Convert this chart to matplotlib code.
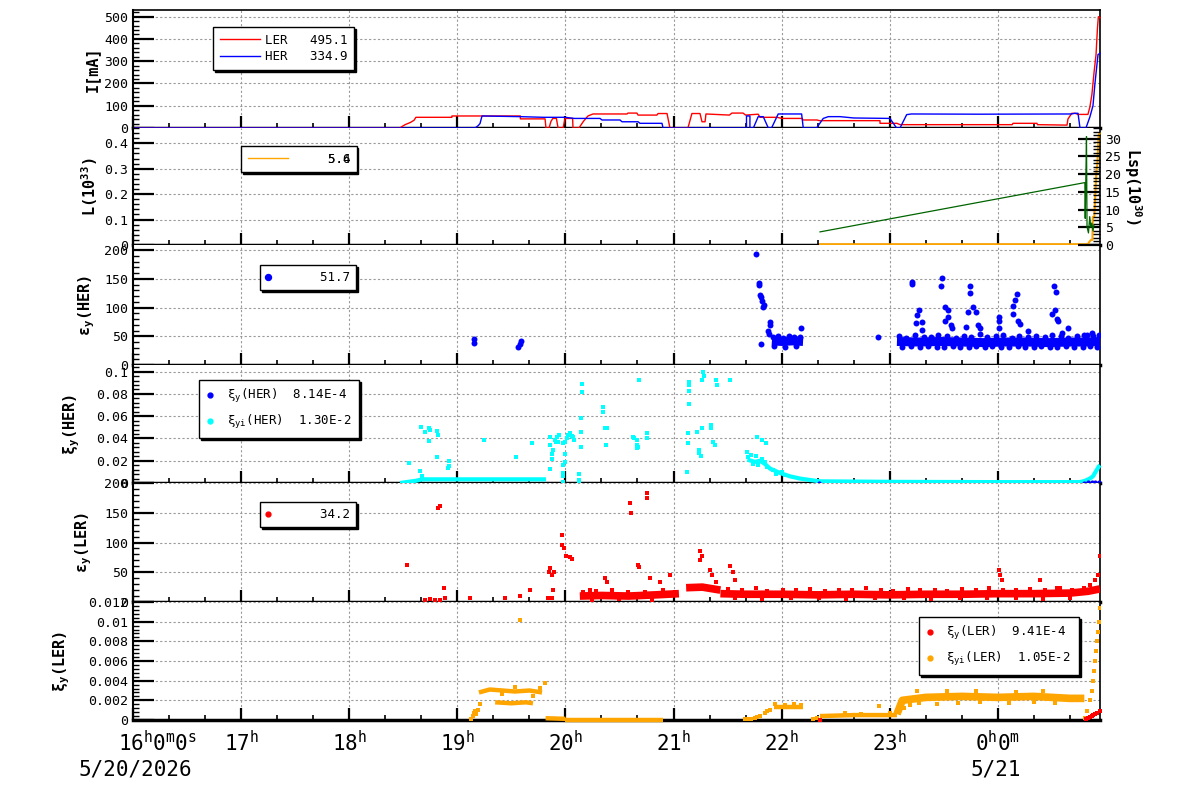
import numpy as np
import matplotlib.pyplot as plt
import matplotlib.transforms as mtransforms
from matplotlib.ticker import MultipleLocator
from matplotlib.lines import Line2D

plt.rcParams['font.family'] = 'DejaVu Sans Mono'
plt.rcParams['mathtext.default'] = 'regular'

#%% Data (time in minutes after 16:00 on 5/20/2026)
T_END = 536.7
hour_ticks = [0, 60, 120, 180, 240, 300, 360, 420, 480]
hour_labels = [r'$16^{h}0^{m}0^{s}$', r'$17^{h}$', r'$18^{h}$', r'$19^{h}$', r'$20^{h}$',
               r'$21^{h}$', r'$22^{h}$', r'$23^{h}$', r'$0^{h}0^{m}$']

# beam currents [mA]
ler_current = [(0, 0), (148, 0), (151, 15), (154, 25), (156, 35), (157, 48), (177, 48), (177, 54),
               (215, 54), (215, 41), (228.7, 41), (229.2, 0), (230.9, 0), (232, 30), (233, 43), (235, 43),
               (235.9, 0), (238.7, 0), (239.8, 43), (244, 43), (244.2, 0), (247.5, 0), (250, 30), (252.5, 54),
               (255.3, 63), (274.2, 63), (274.7, 67), (279.7, 67), (280.3, 58), (290.8, 58), (291.4, 65),
               (296.4, 65), (298, 0), (308, 0), (310.2, 65), (314.7, 65), (315.8, 28), (317.5, 28), (318, 63),
               (331, 58), (332.4, 67), (338.6, 67), (340, 58), (347, 62), (348, 48), (357.4, 48), (360.2, 43),
               (371.3, 43), (371.9, 36), (379.6, 36), (381, 33), (414.6, 33), (414.6, 21), (424, 21),
               (425.7, 15), (488, 15), (488.4, 21), (501.7, 21), (502, 15), (518.4, 13), (518.9, 40),
               (521, 66), (522.8, 66), (524.5, 61), (530, 61), (531.1, 95), (532.2, 150), (533.4, 250),
               (534.5, 330), (535.3, 450), (535.8, 500), (536.7, 495)]
her_current = [(0, 0), (189.8, 0), (191.5, 10), (192.6, 20), (193.7, 54), (214.8, 51), (228, 48), (240, 48),
               (245, 43), (259.2, 43), (260.3, 36), (270.3, 36), (271.4, 28), (280.3, 28), (281.4, 21),
               (293.6, 21), (294.2, 0), (340.5, 0), (340.5, 54), (342.4, 54), (342.4, 0), (344.3, 0),
               (347, 51), (349.8, 51), (352.6, 0), (354.4, 0), (358.1, 63), (371.1, 63), (372, 0),
               (379.4, 0), (383.1, 43), (385.9, 51), (392.4, 51), (400, 45), (420.1, 43), (423.8, 0),
               (425.7, 0), (429.4, 60), (432, 63), (470, 62), (521, 63), (522.8, 66), (524.5, 66),
               (525.6, 0), (528.9, 0), (531.1, 50), (532.8, 100), (533.9, 200), (535.6, 330), (536.7, 335)]

# luminosity [1e33] and specific luminosity [1e30]
lum = [(381.3, 0.003), (530, 0.003), (530.5, 0.01), (531.7, 0.02), (532.5, 0.02), (532.7, 0.11),
       (533.5, 0.11), (534.3, 0.23), (534.7, 0.29), (535.3, 0.32), (535.9, 0.43), (536.6, 0.44)]
lsp = [(381.3, 3.7), (528.3, 17.6), (528.5, 7.5), (528.9, 21), (529.2, 30.6), (529.5, 5.1), (530.3, 3.4),
       (531, 8), (531.6, 5), (532.2, 6.2), (532.8, 4), (533.3, 5.5)]

# vertical emittance HER
eyh_pts = [(189.3, 45), (189.3, 38), (213.7, 32), (214.8, 36), (215.3, 41), (413.5, 49),
           (345.8, 193), (347.4, 143), (347.4, 139), (348, 122), (348.5, 118), (349.1, 112), (349.7, 101),
           (350.2, 104), (353.5, 75), (353.5, 70), (353, 54), (348.5, 36), (352.4, 60), (370.7, 64),
           (432.3, 145), (432.3, 141), (436.2, 96), (435, 87), (437.9, 75), (434.6, 73), (437.9, 61),
           (449, 151), (448.4, 137), (450.7, 101), (452.3, 95), (452.3, 83), (450.7, 76), (454, 70),
           (454.6, 65), (464.5, 137), (464.5, 125), (466.2, 101), (463.4, 93), (467.9, 92), (469, 70),
           (470, 65), (462.3, 67), (480.6, 83), (480.6, 76), (480.6, 65), (490.6, 124), (489.5, 113),
           (488.4, 103), (488.4, 89), (491.2, 76), (492.3, 72), (496.7, 59), (511.2, 137), (512.3, 127),
           (511.7, 96), (510, 89), (512.8, 80), (513.4, 77), (518.9, 64), (515.6, 55), (532.2, 56),
           (529.5, 52),
           (355, 48), (358, 50), (361, 47), (364, 51), (367, 49), (370, 48), (356, 33), (362, 32), (368, 33),
           (425, 50), (429, 47), (434, 52), (439, 49), (443, 48), (447, 53), (452, 50), (457, 47), (461, 51),
           (465, 49), (470, 54), (474, 48), (479, 50), (483, 52), (488, 47), (492, 51), (497, 49), (501, 50),
           (506, 48), (510, 52), (515, 50), (519, 47), (524, 51), (528, 53), (533, 50), (536, 52),
           (427, 32), (432, 33), (437, 31), (441, 33), (446, 32), (450, 31), (455, 33), (459, 32), (464, 31),
           (468, 33), (473, 32), (477, 33), (482, 31), (486, 32), (491, 33), (495, 31), (500, 32), (504, 33),
           (509, 31), (513, 32), (518, 33), (522, 31), (527, 32), (531, 33), (535, 32)]
eyh_band1 = [(354.6, 42), (360, 41), (366, 42), (371.9, 41)]
eyh_band2 = [(424, 41), (436, 40), (448, 41), (460, 40), (472, 39), (484, 40), (496, 40), (508, 39),
             (520, 40), (530, 40), (536.7, 41)]

# beam-beam parameters HER
xiyi_her_pts = [(153.2, 0.0177), (159.3, 0.0105), (160.4, 0.006), (159.8, 0.050), (162.1, 0.0456),
                (164.3, 0.049), (164.3, 0.0375), (164.8, 0.048), (168.7, 0.047), (168.7, 0.023),
                (169.3, 0.043), (175.4, 0.0198), (175.4, 0.0153), (174.8, 0.0132), (194.8, 0.0384),
                (212.6, 0.023), (221.4, 0.0357), (231.4, 0.041), (231.4, 0.034), (232.4, 0.0216),
                (232.4, 0.0258), (231.4, 0.0126), (233.3, 0.030), (234.2, 0.0387), (234.8, 0.0366),
                (235.1, 0.041), (236, 0.0372), (236.6, 0.043), (238.8, 0.0357), (239.8, 0.0372),
                (240.7, 0.0402), (241.6, 0.0432), (242.5, 0.0447), (243.5, 0.0426), (244.3, 0.0417),
                (244.7, 0.0387), (238.6, 0.0162), (238.6, 0.0087), (238.4, 0.0063), (238.4, 0.0005),
                (239.5, 0.0258), (239.5, 0.019), (247.5, 0.0078), (247.5, 0.0027), (247.5, 0.0005),
                (248.8, 0.058), (248.8, 0.0456), (248.8, 0.032), (249.2, 0.0888), (249.2, 0.0816),
                (261, 0.068), (261, 0.0636), (262.9, 0.049), (261.9, 0.049), (262.3, 0.034), (277.7, 0.0417),
                (278, 0.0402), (279.7, 0.0387), (279.6, 0.034), (279.9, 0.031), (280.4, 0.032), (281, 0.0927),
                (285.4, 0.0447), (285.4, 0.0402), (307.6, 0.0096), (308.2, 0.0447), (308.2, 0.0357),
                (308.8, 0.091), (308.8, 0.0876), (308.8, 0.0822), (308.8, 0.071), (312.8, 0.0462),
                (314.3, 0.0297), (314.3, 0.0267), (315.1, 0.024), (315.6, 0.0927), (316.5, 0.0996),
                (316.9, 0.0957), (315.9, 0.0498), (320.8, 0.052), (320.8, 0.049), (322.1, 0.0366),
                (323, 0.034), (323.6, 0.0927), (324.3, 0.0876), (331.3, 0.0927), (340.8, 0.028),
                (341.5, 0.023), (343, 0.025), (344, 0.017), (346, 0.024), (347, 0.016), (349, 0.022),
                (351, 0.019), (352, 0.014), (355, 0.012), (357, 0.008), (360, 0.010), (362, 0.007),
                (346.3, 0.041), (349.1, 0.039), (351.3, 0.036)]
xiyi_her_band1 = [(148.2, 0.0), (150.4, 0.0005), (152.6, 0.001), (154.8, 0.0015), (157, 0.002),
                  (159.2, 0.0028), (161.3, 0.0033), (229.2, 0.0033)]
xiyi_her_band2 = [(341, 0.021), (345.2, 0.019), (348, 0.02), (350.8, 0.017), (353.5, 0.013), (356.3, 0.011),
                  (359.1, 0.009), (364.6, 0.006), (370.2, 0.004), (375.7, 0.0027), (381.3, 0.0015),
                  (425.7, 0.001), (481.2, 0.0008), (525.6, 0.0008), (528.4, 0.002), (531.1, 0.004),
                  (532.8, 0.006), (533.9, 0.009), (535, 0.012), (536.1, 0.015), (536.7, 0.016)]
xiy_her_pts = [(381, 0.0003), (528, 0.0003), (530, 0.0005), (532, 0.0007), (534, 0.0008), (536, 0.001)]

# vertical emittance LER
eyl_pts = [(152.1, 62), (162.1, 3), (164.8, 5), (167.6, 3), (170.4, 3), (173.2, 7), (169.3, 158), (170.4, 162),
           (172.6, 23), (187, 7), (206.5, 7), (214.8, 10), (220.3, 20), (230.3, 7), (230.9, 50), (231.4, 57),
           (232.5, 45), (233.7, 50), (238.1, 113), (238.1, 95), (239.2, 90), (240.3, 78), (242.5, 75),
           (243.6, 73), (232.5, 7), (233.1, 20), (253.6, 20), (262, 40), (263, 33), (265.8, 20), (275.8, 167),
           (276.4, 150), (280.3, 62), (280.8, 58), (285.3, 183), (285.3, 175), (286.9, 40), (292.5, 33),
           (298, 45), (294.2, 20), (314.7, 85), (315.8, 77), (314.7, 70), (320.2, 53), (321.3, 45),
           (323.6, 33), (331.3, 60), (333, 50), (334, 37), (480.6, 53), (481.2, 45), (482.3, 37), (503.4, 37),
           (514.5, 23), (531.1, 28), (533.9, 37), (535.6, 45), (536.7, 78),
           (250, 16), (257, 18), (266, 15), (275, 17), (284, 16), (294, 18), (301, 17), (255, 4), (270, 5),
           (288, 4), (330, 22), (338, 20), (346, 23), (352, 19), (361, 21), (368, 20), (376, 22), (384, 19),
           (392, 21), (399, 20), (407, 23), (415, 20), (422, 19), (430, 22), (437, 20), (445, 21), (452, 19),
           (460, 22), (468, 20), (475, 23), (483, 21), (490, 20), (498, 22), (506, 21), (513, 23), (521, 20),
           (528, 24), (334, 6), (349, 5), (365, 7), (381, 6), (396, 5), (412, 6), (428, 7), (443, 5), (459, 6),
           (474, 7), (490, 6), (505, 5), (520, 7)]
eyl_band_a = [(248, 10), (260, 11), (275, 10), (290, 12), (303, 14)]
eyl_band_b = [(307, 24), (316, 25), (326, 20)]
eyl_band_c = [(326, 14), (340, 13), (360, 13), (380, 12), (400, 13), (420, 12), (440, 13), (460, 13),
              (480, 14), (500, 14), (520, 15), (530, 18), (536.7, 22)]

# beam-beam parameters LER
xiyi_ler_pts = [(187.6, 0.0001), (188.5, 0.0004), (189, 0.0007), (190, 0.0009), (190.5, 0.0006),
                (191.5, 0.001), (192.6, 0.0016), (214.8, 0.0102), (228.7, 0.0038), (205, 0.0026),
                (212, 0.0034), (222, 0.0024), (226, 0.0033), (339.7, 0.0001), (341.5, 0.0001), (343, 0.0001),
                (345, 0.0002), (346.5, 0.0003), (348, 0.0004), (350.5, 0.0007), (352, 0.0009), (353.5, 0.001),
                (356.5, 0.0016), (362, 0.0015), (367, 0.0016), (371, 0.0015), (377.4, 0.0001),
                (379.5, 0.0002), (395, 0.0007), (404, 0.0006), (414, 0.0014), (420, 0.0007), (428, 0.0012),
                (431, 0.0015), (436, 0.0017), (446, 0.0016), (458, 0.0017), (470, 0.0018), (486, 0.0017),
                (500, 0.0018), (512, 0.0017), (435, 0.0029), (452, 0.003), (468, 0.0029), (490, 0.0028),
                (505, 0.003), (528.4, 0.0002), (529.5, 0.0009), (531.1, 0.002), (532.2, 0.003),
                (532.8, 0.004), (533.4, 0.005), (533.9, 0.006), (534.5, 0.007), (535, 0.008), (535.6, 0.009),
                (536.1, 0.010), (536.7, 0.0114)]
xiyi_ler_bands = [
    [(192, 0.0028), (198, 0.0031), (205, 0.003), (212, 0.0029), (220, 0.003), (227, 0.0028)],
    [(201, 0.0018), (210, 0.0017), (218, 0.0018), (222, 0.0017)],
    [(229, 0.00018), (240, 0.00012)],
    [(240, 0.00003), (294, 0.00003)],
    [(356, 0.0013), (372, 0.0013)],
    [(381.3, 0.0004), (400, 0.0005), (424, 0.0005)],
    [(424, 0.0006), (427, 0.0020), (440, 0.0023), (460, 0.0024), (480, 0.0023), (500, 0.0024),
     (520, 0.0022), (528, 0.0022)],
]
xiy_ler_pts = [(381.3, 0.00005), (528.9, 0.0001), (530, 0.0002), (531, 0.0003), (532, 0.0004),
               (533, 0.0005), (534, 0.0006), (535, 0.0007), (536.5, 0.0009)]


def xy(pairs):
    a = np.array(pairs, dtype=float)
    return a[:, 0], a[:, 1]


#%% Figure layout
fig = plt.figure(figsize=(12, 7.98), dpi=100)
edges = [10, 128, 245, 365, 483, 602, 720]
axs = []
for k in range(6):
    top, bot = edges[k], edges[k + 1]
    axs.append(fig.add_axes([133 / 1200, 1 - bot / 798, 967 / 1200, (bot - top) / 798]))


def style(ax, ylim, yticks, ylabels, minor, ylabel, label_x):
    ax.set_xlim(0, T_END)
    ax.set_ylim(*ylim)
    ax.set_xticks(hour_ticks)
    ax.xaxis.set_minor_locator(MultipleLocator(20))
    ax.set_yticks(yticks)
    ax.set_yticklabels(ylabels)
    ax.yaxis.set_minor_locator(MultipleLocator(minor))
    ax.tick_params(axis='x', which='major', direction='in', length=9, width=1.6, labelbottom=False)
    ax.tick_params(axis='x', which='minor', direction='in', length=3.5, width=1.2)
    ax.tick_params(axis='y', which='major', direction='in', length=15, width=1.6, labelsize=9.5, pad=3.5)
    ax.tick_params(axis='y', which='minor', direction='in', length=4, width=1.0)
    ax.grid(True, which='major', color='#9a9a9a', ls=(0, (2, 2)), lw=0.8)
    ax.spines['bottom'].set_linewidth(2.5)
    ax.spines['left'].set_linewidth(1.5)
    ax.spines['right'].set_linewidth(1.2)
    ax.spines['top'].set_linewidth(1.2)
    ax.set_ylabel(ylabel, fontsize=11, fontweight='bold')
    ax.yaxis.set_label_coords(label_x, 0.5)


shadow = {'ox': 1.3, 'oy': -1.3, 'facecolor': 'black', 'edgecolor': 'black', 'alpha': 1}
legend_font = {'family': 'DejaVu Sans Mono', 'size': 9}


def box_legend(ax, handles, labels, anchor, **kw):
    leg = ax.legend(handles, labels, loc='upper left', bbox_to_anchor=anchor, borderaxespad=0,
                    fancybox=False, edgecolor='black', framealpha=1, shadow=shadow,
                    prop=legend_font, **kw)
    leg.get_frame().set_linewidth(1.0)
    leg.set_zorder(10)
    return leg


#%% Panel 1: currents
ax = axs[0]
style(ax, (0, 530), [0, 100, 200, 300, 400, 500], ['0', '100', '200', '300', '400', '500'], 20,
      'I[mA]', -0.034)
t, v = xy(ler_current)
ax.plot(t, v, color='red', lw=1, zorder=3, clip_on=False)
t, v = xy(her_current)
ax.plot(t, v, color='blue', lw=1, zorder=3, clip_on=False)
box_legend(ax, [Line2D([], [], color='red', lw=1), Line2D([], [], color='blue', lw=1)],
           ['LER   495.1', 'HER   334.9'], (0.0827, 0.856),
           borderpad=0.53, handlelength=3.2, handletextpad=0.4, labelspacing=0.3)

#%% Panel 2: luminosity
ax = axs[1]
style(ax, (0, 0.46), [0, 0.1, 0.2, 0.3, 0.4], ['0', '0.1', '0.2', '0.3', '0.4'], 0.02,
      r'L(10$^{33}$)', -0.034)
ax.spines['top'].set_visible(False)
ax2 = ax.twinx()
ax2.set_ylim(0, 33)
ax2.set_yticks([0, 5, 10, 15, 20, 25, 30])
ax2.yaxis.set_minor_locator(MultipleLocator(1))
ax2.tick_params(axis='y', which='major', direction='in', length=16, width=1.6, labelsize=9.5, pad=3.5)
ax2.tick_params(axis='y', which='minor', direction='in', length=5, width=1.0)
for s in ax2.spines.values():
    s.set_visible(False)
ax2.set_ylabel(r'Lsp(10$^{30}$)', fontsize=11, fontweight='bold', rotation=270, va='bottom')
ax2.yaxis.set_label_coords(1.023, 0.5)
t, v = xy(lsp)
ax2.plot(t, v, color='darkgreen', lw=0.9, zorder=3)
t, v = xy(lum)
ax.plot(t, v, color='orange', lw=1.5, zorder=3, clip_on=False)
leg_l = box_legend(ax2, [Line2D([], [], color='orange', lw=1)], ['    5.6'], (0.1117, 0.846),
                   borderpad=0.52, handlelength=3.2, handletextpad=0.8)
ax2.add_artist(leg_l)
# second luminosity entry printed on top of the first one
leg_over = ax2.legend([Line2D([], [], color='none')], ['    5.4'], loc='upper left',
                      bbox_to_anchor=(0.1117, 0.846), borderaxespad=0, frameon=False, prop=legend_font,
                      borderpad=0.52, handlelength=3.2, handletextpad=0.8)
leg_over.set_zorder(11)

#%% Panel 3: HER emittance
ax = axs[2]
style(ax, (0, 209), [0, 50, 100, 150, 200], ['0', '50', '100', '150', '200'], 10,
      r'ε$_{y}$(HER)', -0.037)
ax.spines['top'].set_visible(False)
for band in (eyh_band1, eyh_band2):
    t, v = xy(band)
    ax.plot(t, v, color='blue', lw=6.5, solid_capstyle='butt', zorder=3)
t, v = xy(eyh_pts)
ax.plot(t, v, 'o', color='blue', ms=4.3, mew=0, zorder=3)
box_legend(ax, [Line2D([], [], marker='o', ls='none', color='blue', ms=4.3)], ['    51.7'],
           (0.1313, 0.833), borderpad=0.48, handlelength=0.4, handletextpad=1.5)

#%% Panel 4: HER beam-beam
ax = axs[3]
style(ax, (0, 0.106), [0, 0.02, 0.04, 0.06, 0.08, 0.1], ['0', '0.02', '0.04', '0.06', '0.08', '0.1'],
      0.004, r'ξ$_{y}$(HER)', -0.053)
ax.spines['top'].set_visible(False)
for band in (xiyi_her_band1, xiyi_her_band2):
    t, v = xy(band)
    ax.plot(t, v, color='cyan', lw=3, solid_capstyle='butt', zorder=3, clip_on=False)
t, v = xy(xiyi_her_pts)
ax.plot(t, v, 's', color='cyan', ms=2.9, mew=0, zorder=3)
t, v = xy(xiy_her_pts)
ax.plot(t, v, 'o', color='blue', ms=3, mew=0, zorder=4, clip_on=False)
box_legend(ax, [Line2D([], [], marker='o', ls='none', color='blue', ms=3.5),
                Line2D([], [], marker='o', ls='none', color='cyan', ms=3.5)],
           [r'ξ$_{y}$(HER)  8.14E-4', r'ξ$_{yi}$(HER)  1.30E-2'], (0.0683, 0.873),
           borderpad=0.6, handlelength=0.5, handletextpad=1.1, labelspacing=0.6)

#%% Panel 5: LER emittance
ax = axs[4]
style(ax, (0, 200), [0, 50, 100, 150, 200], ['0', '50', '100', '150', '200'], 10,
      r'ε$_{y}$(LER)', -0.04)
ax.spines['top'].set_visible(False)
for band in (eyl_band_a, eyl_band_b, eyl_band_c):
    t, v = xy(band)
    ax.plot(t, v, color='red', lw=5.5, solid_capstyle='butt', zorder=3)
t, v = xy(eyl_pts)
ax.plot(t, v, 's', color='red', ms=2.5, mew=0, zorder=3)
box_legend(ax, [Line2D([], [], marker='o', ls='none', color='red', ms=3.5)], ['    34.2'],
           (0.1313, 0.840), borderpad=0.48, handlelength=0.4, handletextpad=1.5)

#%% Panel 6: LER beam-beam
ax = axs[5]
style(ax, (0, 0.012), [0, 0.002, 0.004, 0.006, 0.008, 0.01, 0.012],
      ['0', '0.002', '0.004', '0.006', '0.008', '0.01', '0.012'], 0.0004, r'ξ$_{y}$(LER)', -0.063)
ax.spines['top'].set_visible(False)
for k, band in enumerate(xiyi_ler_bands):
    t, v = xy(band)
    ax.plot(t, v, color='orange', lw=5.5 if k == 6 else 3.2, solid_capstyle='butt', zorder=3, clip_on=False)
t, v = xy(xiyi_ler_pts)
ax.plot(t, v, 's', color='orange', ms=2.9, mew=0, zorder=3)
t, v = xy(xiy_ler_pts)
ax.plot(t, v, 's', color='red', ms=3, mew=0, zorder=4, clip_on=False)
box_legend(ax, [Line2D([], [], marker='o', ls='none', color='red', ms=3.5),
                Line2D([], [], marker='o', ls='none', color='orange', ms=3.5)],
           [r'ξ$_{y}$(LER)  9.41E-4', r'ξ$_{yi}$(LER)  1.05E-2'], (0.8128, 0.873),
           borderpad=0.6, handlelength=0.5, handletextpad=1.1, labelspacing=0.6)

# time axis labels on the bottom panel
ax.set_xticklabels(hour_labels)
ax.tick_params(axis='x', which='major', labelbottom=True, labelsize=15, pad=7)
tick0 = ax.xaxis.get_major_ticks()[0]
tick0.label1.set_transform(tick0.label1.get_transform()
                           + mtransforms.ScaledTranslation(0.25, 0, fig.dpi_scale_trans))
date_tr = ax.get_xaxis_transform()
ax.text(-30.5, -0.42, '5/20/2026', transform=date_tr, fontsize=15, ha='left', va='center')
ax.text(464.6, -0.42, '5/21', transform=date_tr, fontsize=15, ha='left', va='center')

fig.savefig('out.png', dpi=100)
